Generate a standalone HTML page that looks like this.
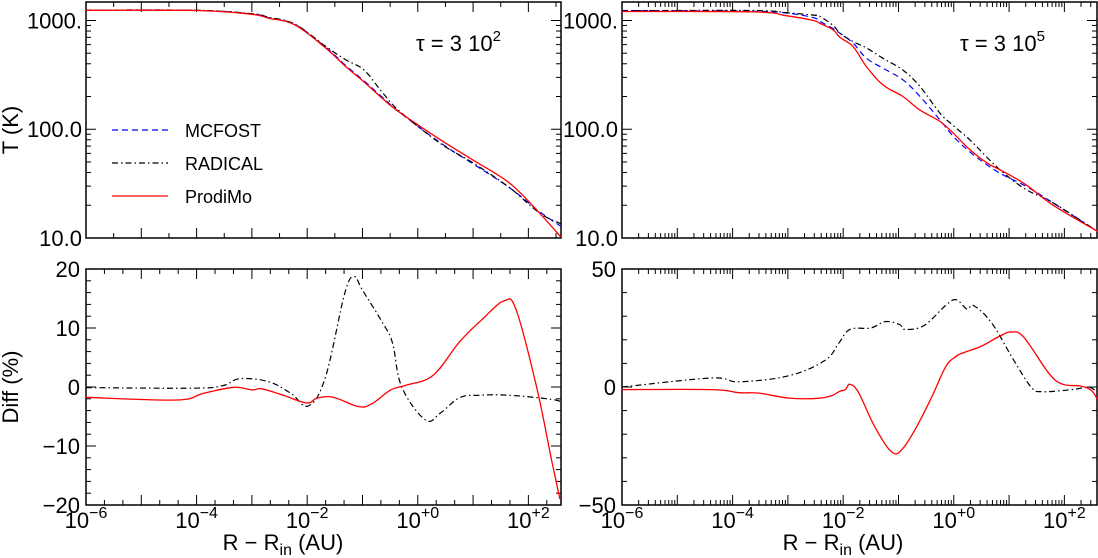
<!DOCTYPE html>
<html><head><meta charset="utf-8">
<style>
html,body{margin:0;padding:0;background:#fff;}
svg{display:block;font-family:"Liberation Sans",sans-serif;}
</style></head>
<body>
<svg id="chart" width="1098" height="558" viewBox="0 0 1098 558" xmlns="http://www.w3.org/2000/svg"></svg>
<script>
// ---------- DATA ----------
// top-left panel (tau = 3 10^2): R - Rin (AU) vs T (K)
const tlR = [1e-6,1e-4,1e-3,2e-3,6e-3,0.0214,0.05,0.107,0.234,0.479,2.57,10,45.7,158,389];
const tlMcfost  = [1245,1240,1150,1060,920,570,385,278,195,142,75,48,29,17.5,12.8];
const tlRadical = [1245,1240,1155,1070,925,580,435,350,215,145,74,49,29,17,13.5];
const tlProdimo = [1240,1235,1140,1050,910,560,377,272,190,142,80,52,32,17,10.2];
// top-right panel (tau = 3 10^5)
const trR = [1e-6,2.3e-4,9.5e-4,2.9e-3,3.8e-3,6.6e-3,8.7e-3,0.0151,0.0263,0.052,0.12,0.245,0.56,0.98,1.95,4,7.8,20,63,398];
const trMcfost  = [1236,1215,1170,1060,980,840,765,620,450,365,285,200,122,86,62,47,38,30,21,11.5];
const trRadical = [1230,1236,1180,1120,1090,900,765,640,560,450,350,247,141,108,80,55,40,28,21,11.5];
const trProdimo = [1210,1200,1105,1000,940,820,700,575,377,256,200,150,118,92,65,49,41,31,20,11.5];
// bottom-left panel: Diff (%)
const blRadR = [1e-6,8.1e-5,2.9e-4,6e-4,2e-3,5.1e-3,0.0105,0.0214,0.0479,0.0708,0.1,0.234,0.35,0.513,1.38,2.57,5.75,12.9,45.7,309,389];
const blRad  = [-0.1,-0.2,0.2,1.4,0.9,-1.1,-3.2,1.7,15.9,18.7,16.4,10.8,7.4,0,-5.6,-4.4,-1.8,-1.4,-1.4,-2.2,-3];
const blProR = [1e-6,4.3e-5,1.3e-4,4.7e-4,1e-3,1.5e-3,3.7e-3,9.8e-3,0.015,0.0295,0.083,0.145,0.324,0.617,1.9,5.75,15.1,36.3,60,141,263,372];
const blPro  = [-1.75,-2.2,-1.1,-0.05,-0.5,-0.3,-1.4,-2.7,-1.9,-1.75,-3.3,-2.9,-0.5,0.3,2.0,7.7,11.6,14.6,13.1,0,-12.4,-19];
// bottom-right panel
const brRadR = [1e-6,4.1e-5,1.3e-4,1.05e-3,4.7e-3,8.3e-3,0.0132,0.0316,0.0575,0.105,0.13,0.288,0.708,1.1,1.74,2.29,4.9,11.7,25,40,148,269,389];
const brRad  = [0,3.8,2.2,4.8,11.3,18.5,24.4,25,27.7,26.5,24.4,26,34.5,37,33,34.5,27,12,0,-2,-1,0,-2];
const brProR = [1e-6,4.1e-5,1.3e-4,3e-4,1.05e-3,3.5e-3,6.3e-3,8.7e-3,0.011,0.0132,0.019,0.037,0.076,0.12,0.214,0.4,0.71,1.1,1.6,3.1,6.6,11,18.6,52.5,93,200,309,389];
const brPro  = [-1.1,-1.1,-2.4,-2.6,-4.7,-4.8,-3.6,-1.8,-1.1,1.2,-2.4,-16.7,-27.6,-26,-16.7,-4.2,8.5,13,14.8,17.2,21.4,23.3,21,5.8,1.2,0.4,-1.5,-5];

// ---------- DRAWING ----------
const svg = document.getElementById('chart');
const NS = 'http://www.w3.org/2000/svg';
function mk(tag, attrs, parent){
  const e = document.createElementNS(NS, tag);
  for (const k in attrs) e.setAttribute(k, attrs[k]);
  (parent||svg).appendChild(e);
  return e;
}
const XMIN = -6, XMAX = 2.59;
const panels = {
  tl:{x0:86,x1:561,y0:2,y1:238},
  tr:{x0:622,x1:1097,y0:2,y1:238},
  bl:{x0:86,x1:561,y0:269,y1:505},
  br:{x0:622,x1:1097,y0:269,y1:505}
};
function xScale(p){return r => p.x0 + (Math.log10(r)-XMIN)/(XMAX-XMIN)*(p.x1-p.x0);}
const TMIN = 1, TMAX = 3.17;
function yLog(p){return t => p.y1 - (Math.log10(t)-TMIN)/(TMAX-TMIN)*(p.y1-p.y0);}
function yLin(p,lo,hi){return v => p.y1 - (v-lo)/(hi-lo)*(p.y1-p.y0);}

function line(g,x1,y1,x2,y2){mk('line',{x1,y1,x2,y2,stroke:'#000','stroke-width':1},g);}

function frame(p, name){
  const g = mk('g',{});
  
  
  mk('rect',{x:p.x0,y:p.y0,width:p.x1-p.x0,height:p.y1-p.y0,fill:'none',stroke:'#000','stroke-width':1.5},g);
  return g;
}
function xTicks(g,p,mode,labels){
  const xs = xScale(p);
  for(let d=-6; d<=2; d++){
    const X = xs(Math.pow(10,d));
    line(g,X,p.y1,X,p.y1-10); line(g,X,p.y0,X,p.y0+10);
    if(labels && d%2===0){
      const t = mk('text',{x:X,y:528,'font-size':22,'text-anchor':'middle'},g);
      
      
      t.textContent='10';
      const s = mk('tspan',{dy:-10,'font-size':16},t);
      s.textContent = d<0 ? '\u2212'+(-d) : '+'+d;
    }
  }
  for(let d=-6; d<=2; d++){
    let subs = [];
    if(mode==='log') subs=[2,3,4,5,6,7,8,9].map(m=>Math.log10(m));
    else if(mode==='half') subs=[0.5];
    else if(mode==='third') subs=[1/3,2/3];
    subs.forEach(s=>{
      const v = d+s; if(v>XMAX) return;
      const X = xs(Math.pow(10,v));
      line(g,X,p.y1,X,p.y1-5); line(g,X,p.y0,X,p.y0+5);
    });
  }
}
function yLogTicks(g,p,labels){
  const ys = yLog(p);
  for(let d=1; d<=3; d++){
    for(let m=1;m<=9;m++){
      const v=Math.log10(m)+d; if(v>TMAX) break;
      const Y = ys(Math.pow(10,v)); const L = m===1?10:5;
      line(g,p.x0,Y,p.x0+L,Y); line(g,p.x1,Y,p.x1-L,Y);
    }
    if(labels){
      const t = mk('text',{x:p.x0-4,y:ys(Math.pow(10,d))+8,'font-size':22,'text-anchor':'end'},g);
      
      
      t.textContent = ['','10.0','100.0','1000.'][d];
    }
  }
}
function yLinTicks(g,p,lo,hi,minor,major){
  const ys = yLin(p,lo,hi);
  for(let v=lo; v<=hi+1e-9; v+=minor){
    const isMaj = Math.abs(v/major-Math.round(v/major))<1e-6;
    const Y=ys(v), L=isMaj?10:5;
    line(g,p.x0,Y,p.x0+L,Y); line(g,p.x1,Y,p.x1-L,Y);
    if(isMaj){
      const t = mk('text',{x:p.x0-6,y:Y+8,'font-size':22,'text-anchor':'end'},g);
      
      
      t.textContent = (v<0?'\u2212':'')+Math.abs(v);
    }
  }
}
function smoothPath(P){
  let d = 'M'+P[0][0].toFixed(1)+','+P[0][1].toFixed(1);
  const k = 0.18;
  for(let i=0;i<P.length-1;i++){
    const p0=P[Math.max(0,i-1)], p1=P[i], p2=P[i+1], p3=P[Math.min(P.length-1,i+2)];
    const c1=[p1[0]+(p2[0]-p0[0])*k, p1[1]+(p2[1]-p0[1])*k];
    const c2=[p2[0]-(p3[0]-p1[0])*k, p2[1]-(p3[1]-p1[1])*k];
    d+=' C'+c1.map(v=>v.toFixed(1)).join(',')+' '+c2.map(v=>v.toFixed(1)).join(',')+' '+p2.map(v=>v.toFixed(1)).join(',');
  }
  return d;
}
function series(p,xsArr,ysArr,yfn,style,name){
  const xs = xScale(p);
  const P = xsArr.map((r,i)=>[xs(r), yfn(ysArr[i])]);
  const e = mk('path',{d:smoothPath(P),fill:'none',stroke:style.c,'stroke-width':style.w||1.2,'stroke-dasharray':style.d||'none','stroke-linejoin':'round'});
  
  
}
const S_MC = {c:'#0000ff',d:'6,4'};
const S_RA = {c:'#000',d:'6,3,1.5,3'};
const S_PR = {c:'#ff0000',w:1.3};

let g;
// TL
g = frame(panels.tl,'top-left'); xTicks(g,panels.tl,'half',false); yLogTicks(g,panels.tl,true);
series(panels.tl,tlR,tlMcfost,yLog(panels.tl),S_MC,'mcfost-line-tau-3e2');
series(panels.tl,tlR,tlRadical,yLog(panels.tl),S_RA,'radical-line-tau-3e2');
series(panels.tl,tlR,tlProdimo,yLog(panels.tl),S_PR,'prodimo-line-tau-3e2');
// TR
g = frame(panels.tr,'top-right'); xTicks(g,panels.tr,'log',false); yLogTicks(g,panels.tr,true);
series(panels.tr,trR,trMcfost,yLog(panels.tr),S_MC,'mcfost-line-tau-3e5');
series(panels.tr,trR,trRadical,yLog(panels.tr),S_RA,'radical-line-tau-3e5');
series(panels.tr,trR,trProdimo,yLog(panels.tr),S_PR,'prodimo-line-tau-3e5');
// BL
g = frame(panels.bl,'bottom-left'); xTicks(g,panels.bl,'third',true); yLinTicks(g,panels.bl,-20,20,2,10);
series(panels.bl,blRadR,blRad,yLin(panels.bl,-20,20),S_RA,'radical-diff-tau-3e2');
series(panels.bl,blProR,blPro,yLin(panels.bl,-20,20),S_PR,'prodimo-diff-tau-3e2');
// BR
g = frame(panels.br,'bottom-right'); xTicks(g,panels.br,'log',true); yLinTicks(g,panels.br,-50,50,10,50);
series(panels.br,brRadR,brRad,yLin(panels.br,-50,50),S_RA,'radical-diff-tau-3e5');
series(panels.br,brProR,brPro,yLin(panels.br,-50,50),S_PR,'prodimo-diff-tau-3e5');

function txt(x,y,s,size,name,attrs){
  const t = mk('text',Object.assign({x,y,'font-size':size},attrs||{}));
  
  
  t.textContent=s; return t;
}
let t = txt(416,51,'\u03c4 = 3 10','22','tau-label-left');
let sp = mk('tspan',{dy:-10,'font-size':15},t); sp.textContent='2';
t = txt(960,51,'\u03c4 = 3 10','22','tau-label-right');
sp = mk('tspan',{dy:-10,'font-size':15},t); sp.textContent='5';
txt(18,130,'T (K)',22,'y-axis-title-temperature',{transform:'rotate(-90 18 130)','text-anchor':'middle'});
txt(18,387,'Diff (%)',22,'y-axis-title-diff',{transform:'rotate(-90 18 387)','text-anchor':'middle'});
[283,843].forEach((cx,i)=>{
  const tt = txt(cx,550,'R \u2212 R',22,'x-axis-title-'+(i?'right':'left'),{'text-anchor':'middle'});
  const s1 = mk('tspan',{dy:5,'font-size':16},tt); s1.textContent='in';
  const s2 = mk('tspan',{dy:-5},tt); s2.textContent=' (AU)';
});
// Legend
const leg = mk('g',{});


[['MCFOST',S_MC,130],['RADICAL',S_RA,163],['ProdiMo',S_PR,196]].forEach(([n,s,y])=>{
  const l = mk('line',{x1:112,y1:y,x2:168,y2:y,stroke:s.c,'stroke-width':s.w||1.2,'stroke-dasharray':s.d||'none'},leg);
  
  
  const tx = mk('text',{x:185,y:y+7,'font-size':18},leg);
  
  
  tx.textContent=n;
});
</script>
</body></html>
